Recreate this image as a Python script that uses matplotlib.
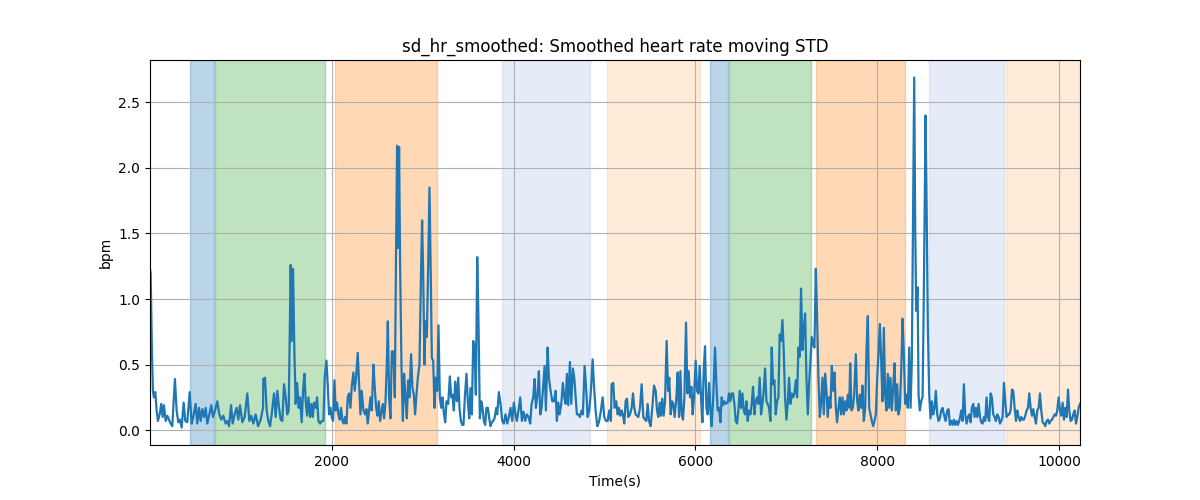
import numpy as np
import matplotlib
matplotlib.use("Agg")
import matplotlib.pyplot as plt

# --- data (time in seconds, smoothed HR moving STD in bpm) ---
seg1_t = [2, 9, 23, 34, 45, 60, 75, 89, 108, 126, 141, 155, 174, 192, 210, 229, 247, 276, 295, 313, 331,
          350, 372, 390, 412, 438, 460, 478, 504, 522, 541, 559, 577, 596, 614, 632, 654, 676, 695, 717, 742,
          764, 786, 808, 834, 856, 871, 893, 911, 933, 955, 973, 992, 1017, 1043, 1072, 1094, 1116, 1138, 1164, 1190,
          1219, 1245]
seg1_v = [1.23, 1.20, 0.61, 0.30, 0.25, 0.29, 0.15, 0.07, 0.12, 0.20, 0.10, 0.19, 0.07, 0.11, 0.08, 0.05, 0.03, 0.39, 0.15, 0.06, 0.08,
          0.02, 0.21, 0.07, 0.06, 0.29, 0.05, 0.10, 0.20, 0.05, 0.17, 0.07, 0.16, 0.10, 0.17, 0.05, 0.12, 0.19, 0.10, 0.15, 0.22,
          0.12, 0.08, 0.11, 0.05, 0.07, 0.03, 0.19, 0.05, 0.12, 0.17, 0.08, 0.19, 0.06, 0.10, 0.28, 0.07, 0.11, 0.05, 0.12, 0.03,
          0.08, 0.17]

seg2_t = [1248, 1267, 1285, 1303, 1322, 1340, 1366, 1384, 1402, 1421, 1439, 1457, 1476, 1494, 1512, 1527, 1538, 1549, 1560, 1575,
          1589, 1604, 1619, 1637, 1652, 1670, 1685, 1700, 1714, 1729, 1744, 1762, 1777, 1791, 1806, 1824, 1839, 1854, 1872, 1890,
          1909, 1923, 1942, 1956, 1971, 1986, 2000, 2015, 2030, 2044, 2059, 2074, 2088, 2103, 2118, 2132, 2147, 2162, 2176, 2191,
          2206, 2220, 2239, 2253, 2268, 2286, 2301, 2316, 2330, 2349, 2367, 2382, 2396, 2411, 2426, 2440, 2459, 2473, 2488, 2503,
          2517, 2532]
seg2_v = [0.39, 0.40, 0.15, 0.07, 0.03, 0.12, 0.28, 0.10, 0.30, 0.17, 0.08, 0.07, 0.35, 0.25, 0.12, 0.15, 0.68, 1.26, 0.68, 1.23,
          0.61, 0.20, 0.36, 0.17, 0.25, 0.06, 0.30, 0.43, 0.22, 0.11, 0.25, 0.10, 0.20, 0.10, 0.21, 0.17, 0.25, 0.07, 0.05, 0.07,
          0.07, 0.40, 0.53, 0.35, 0.12, 0.17, 0.10, 0.07, 0.38, 0.15, 0.21, 0.12, 0.08, 0.17, 0.07, 0.05, 0.10, 0.05, 0.25, 0.28,
          0.17, 0.33, 0.44, 0.30, 0.40, 0.59, 0.35, 0.12, 0.30, 0.15, 0.12, 0.16, 0.05, 0.15, 0.25, 0.15, 0.50, 0.33, 0.17, 0.11,
          0.22, 0.07]

seg3_t = [2543, 2562, 2576, 2591, 2606, 2617, 2631, 2646, 2661, 2679, 2694, 2708, 2719, 2730, 2741, 2752, 2767, 2782, 2796, 2811,
          2826, 2840, 2855, 2873, 2888, 2903, 2917, 2932, 2947, 2965, 2983, 2994, 3005, 3020, 3031, 3046, 3060, 3075, 3090, 3101,
          3116, 3130, 3145, 3160, 3174, 3189, 3204, 3218, 3233, 3248, 3262, 3281, 3299, 3314, 3328, 3343, 3358, 3376, 3391, 3405,
          3420, 3435, 3449, 3464, 3482, 3497, 3512, 3526, 3541, 3556, 3570, 3585, 3600, 3614, 3629, 3644, 3658, 3673, 3688, 3702,
          3717, 3732, 3746, 3761, 3776, 3790, 3809]
seg3_v = [0.12, 0.20, 0.09, 0.21, 0.50, 0.83, 0.25, 0.09, 0.60, 0.60, 0.25, 1.39, 2.17, 1.39, 2.16, 1.27, 0.50, 0.07, 0.43, 0.25,
          0.09, 0.38, 0.25, 0.58, 0.32, 0.27, 0.12, 0.27, 0.40, 0.50, 1.24, 1.60, 1.22, 0.50, 0.83, 0.71, 1.22, 1.85, 1.14, 0.55,
          0.53, 0.17, 0.40, 0.30, 0.80, 0.25, 0.17, 0.25, 0.13, 0.06, 0.22, 0.20, 0.41, 0.25, 0.27, 0.15, 0.37, 0.22, 0.40, 0.17,
          0.07, 0.04, 0.04, 0.25, 0.43, 0.22, 0.09, 0.32, 0.12, 0.68, 0.65, 0.27, 1.32, 0.83, 0.09, 0.22, 0.17, 0.07, 0.04, 0.17,
          0.17, 0.09, 0.03, 0.06, 0.07, 0.09, 0.17]

seg4_t = [3820, 3838, 3856, 3875, 3893, 3911, 3930, 3948, 3966, 3985, 4003, 4021, 4036, 4054, 4073, 4091, 4109, 4128, 4146, 4164,
          4183, 4198, 4216, 4231, 4245, 4264, 4278, 4293, 4308, 4326, 4341, 4355, 4374, 4388, 4407, 4425, 4443, 4462, 4476, 4491,
          4506, 4524, 4542, 4557, 4572, 4586, 4601, 4619, 4634, 4652, 4667, 4682, 4696, 4715, 4729, 4748, 4762, 4781, 4799, 4814,
          4832, 4850, 4869, 4883, 4902, 4920, 4938, 4960, 4979, 4997, 5015, 5034, 5052, 5070]
seg4_v = [0.12, 0.29, 0.20, 0.07, 0.05, 0.12, 0.05, 0.10, 0.17, 0.07, 0.21, 0.12, 0.07, 0.15, 0.25, 0.07, 0.14, 0.07, 0.12, 0.10,
          0.05, 0.20, 0.25, 0.39, 0.17, 0.28, 0.45, 0.12, 0.17, 0.35, 0.49, 0.15, 0.63, 0.40, 0.30, 0.22, 0.22, 0.30, 0.07, 0.21,
          0.12, 0.20, 0.36, 0.25, 0.20, 0.43, 0.19, 0.52, 0.20, 0.47, 0.40, 0.25, 0.12, 0.12, 0.10, 0.15, 0.12, 0.49, 0.30, 0.10,
          0.15, 0.30, 0.54, 0.35, 0.15, 0.03, 0.06, 0.15, 0.25, 0.10, 0.07, 0.07, 0.15, 0.07]

seg5_t = [5078, 5096, 5111, 5129, 5144, 5159, 5173, 5188, 5203, 5217, 5232, 5247, 5261, 5280, 5298, 5313, 5327, 5342, 5357, 5371,
          5390, 5408, 5426, 5445, 5459, 5474, 5489, 5507, 5525, 5544, 5562, 5577, 5591, 5606, 5621, 5635, 5650, 5665, 5683, 5698,
          5712, 5727, 5742, 5756, 5771, 5790, 5804, 5819, 5834, 5848, 5863, 5878, 5896, 5911, 5925, 5940, 5955, 5969, 5984, 6002,
          6017, 6032, 6046, 6061, 6076, 6090, 6105, 6120, 6134, 6149, 6164, 6178, 6197, 6215, 6230, 6244, 6259, 6274, 6288, 6303,
          6318, 6332]
seg5_v = [0.35, 0.36, 0.17, 0.22, 0.12, 0.17, 0.11, 0.15, 0.11, 0.05, 0.22, 0.24, 0.10, 0.12, 0.17, 0.28, 0.17, 0.12, 0.11, 0.10,
          0.17, 0.35, 0.10, 0.08, 0.07, 0.20, 0.07, 0.03, 0.17, 0.34, 0.30, 0.15, 0.10, 0.21, 0.11, 0.24, 0.11, 0.22, 0.68, 0.30,
          0.40, 0.12, 0.22, 0.20, 0.10, 0.25, 0.44, 0.10, 0.45, 0.12, 0.08, 0.25, 0.82, 0.28, 0.45, 0.25, 0.33, 0.12, 0.25, 0.53,
          0.30, 0.28, 0.49, 0.25, 0.06, 0.45, 0.64, 0.17, 0.12, 0.36, 0.15, 0.03, 0.28, 0.63, 0.35, 0.15, 0.17, 0.06, 0.25, 0.19,
          0.22, 0.20]

seg6_t = [6354, 6369, 6384, 6398, 6413, 6428, 6442, 6457, 6472, 6486, 6501, 6516, 6530, 6545, 6560, 6574, 6589, 6604, 6618, 6633,
          6648, 6662, 6677, 6692, 6706, 6721, 6736, 6750, 6765, 6780, 6794, 6809, 6824, 6838, 6853, 6868, 6882, 6897, 6912, 6926,
          6941, 6956, 6970, 6985, 7000, 7014, 7029, 7044, 7059, 7073, 7088, 7103, 7117, 7132, 7147, 7161, 7176, 7191, 7205, 7220,
          7235, 7249, 7264, 7279, 7293, 7308, 7323, 7337, 7352, 7367, 7381, 7396, 7411, 7425, 7440, 7454, 7469, 7484, 7499, 7513,
          7528, 7543, 7557, 7572, 7587, 7601, 7616]
seg6_v = [0.21, 0.28, 0.22, 0.28, 0.28, 0.20, 0.07, 0.05, 0.15, 0.30, 0.17, 0.28, 0.15, 0.12, 0.22, 0.07, 0.15, 0.12, 0.20, 0.33,
          0.12, 0.22, 0.25, 0.20, 0.40, 0.12, 0.20, 0.30, 0.47, 0.22, 0.20, 0.17, 0.07, 0.63, 0.35, 0.38, 0.12, 0.22, 0.25, 0.73,
          0.68, 0.84, 0.61, 0.25, 0.08, 0.20, 0.40, 0.20, 0.28, 0.25, 0.28, 0.38, 0.25, 0.63, 0.56, 1.08, 0.61, 0.78, 0.89, 0.40,
          0.12, 0.35, 0.53, 0.71, 0.66, 0.63, 1.23, 0.86, 0.40, 0.10, 0.20, 0.40, 0.12, 0.43, 0.30, 0.10, 0.25, 0.17, 0.49, 0.30,
          0.44, 0.17, 0.06, 0.17, 0.25, 0.12, 0.25]

seg7_t = [7631, 7646, 7660, 7675, 7690, 7701, 7715, 7730, 7745, 7763, 7778, 7792, 7807, 7822, 7836, 7851, 7866, 7880, 7895, 7910,
          7924, 7939, 7954, 7968, 7983, 7998, 8012, 8027, 8042, 8056, 8071, 8086, 8100, 8115, 8130, 8144, 8159, 8174, 8188, 8203,
          8218, 8232, 8247, 8262, 8277, 8291, 8306, 8321, 8335, 8350, 8365, 8379, 8394, 8405, 8416, 8427, 8442, 8453, 8467, 8482,
          8497, 8508, 8519, 8530, 8541, 8555, 8570, 8585, 8599, 8614, 8629, 8643, 8658, 8673, 8687, 8702, 8717, 8731, 8750, 8768,
          8783, 8797, 8812, 8827, 8841, 8856, 8871, 8885, 8900, 8915]
seg7_v = [0.12, 0.22, 0.15, 0.27, 0.17, 0.51, 0.15, 0.17, 0.27, 0.58, 0.22, 0.15, 0.27, 0.17, 0.34, 0.07, 0.17, 0.60, 0.87, 0.17,
          0.12, 0.07, 0.03, 0.07, 0.12, 0.40, 0.58, 0.81, 0.53, 0.22, 0.78, 0.27, 0.15, 0.43, 0.17, 0.40, 0.15, 0.32, 0.51, 0.15,
          0.35, 0.12, 0.17, 0.45, 0.85, 0.58, 0.20, 0.27, 0.17, 0.63, 0.17, 0.53, 1.75, 2.69, 1.55, 0.91, 1.09, 0.27, 0.15, 0.22,
          0.25, 0.88, 1.60, 2.40, 1.75, 0.78, 0.27, 0.09, 0.22, 0.12, 0.17, 0.30, 0.12, 0.07, 0.09, 0.15, 0.17, 0.12, 0.07, 0.15,
          0.16, 0.04, 0.07, 0.04, 0.08, 0.04, 0.07, 0.04, 0.07, 0.12]

seg8_t = [8922, 8937, 8951, 8966, 8981, 8995, 9010, 9025, 9039, 9054, 9069, 9083, 9098, 9113, 9128, 9142, 9157, 9172, 9186, 9201,
          9215, 9230, 9245, 9259, 9274, 9289, 9303, 9318, 9333, 9348, 9362, 9377, 9392, 9406, 9421, 9436, 9450, 9465, 9480, 9494,
          9509, 9524, 9538, 9553, 9568, 9582, 9597, 9612, 9626, 9641, 9656, 9670, 9685, 9700, 9714, 9729, 9744, 9758, 9773, 9788,
          9802, 9817, 9832, 9846, 9861, 9876, 9890, 9905, 9920, 9934, 9949, 9964, 9978, 9993, 10008, 10022, 10037, 10052, 10066, 10081,
          10096, 10110, 10125, 10140, 10154, 10169, 10184, 10198, 10213, 10228]
seg8_v = [0.15, 0.07, 0.35, 0.12, 0.05, 0.10, 0.12, 0.06, 0.17, 0.20, 0.10, 0.17, 0.10, 0.20, 0.10, 0.06, 0.05, 0.10, 0.07, 0.25,
          0.10, 0.07, 0.28, 0.25, 0.12, 0.10, 0.07, 0.12, 0.10, 0.05, 0.07, 0.10, 0.36, 0.22, 0.10, 0.12, 0.12, 0.15, 0.31, 0.30,
          0.17, 0.07, 0.15, 0.10, 0.07, 0.10, 0.08, 0.08, 0.11, 0.15, 0.17, 0.28, 0.17, 0.11, 0.16, 0.10, 0.05, 0.15, 0.17, 0.28,
          0.15, 0.06, 0.05, 0.03, 0.07, 0.08, 0.05, 0.07, 0.08, 0.10, 0.12, 0.11, 0.15, 0.25, 0.15, 0.11, 0.21, 0.08, 0.17, 0.10,
          0.31, 0.15, 0.07, 0.08, 0.12, 0.15, 0.05, 0.10, 0.17, 0.20]

# shaded activity phases
span_start = [445, 720, 2041, 3867, 5023, 6156, 6366, 7323, 8566, 9413]
span_end = [709, 1927, 3160, 4843, 6054, 6355, 7275, 8302, 9391, 10236]
span_kind = ["a", "b", "c", "d", "e", "a", "b", "c", "d", "e"]

kind_style = {
    "a": ("#1f77b4", 0.30),
    "b": ("#2ca02c", 0.30),
    "c": ("#ff7f0e", 0.30),
    "d": ("#4a7fd0", 0.14),
    "e": ("#ff9f40", 0.20),
}

time_s = np.concatenate([seg1_t, seg2_t, seg3_t, seg4_t, seg5_t, seg6_t, seg7_t, seg8_t]).astype(float)
sd_hr = np.concatenate([seg1_v, seg2_v, seg3_v, seg4_v, seg5_v, seg6_v, seg7_v, seg8_v])

fig, ax = plt.subplots(figsize=(12, 5), dpi=100)
for s, e, k in zip(span_start, span_end, span_kind):
    c, a = kind_style[k]
    ax.axvspan(s, e, color=c, alpha=a)
ax.plot(time_s, sd_hr, color="#1f77b4", linewidth=1.6)
ax.set_xlim(time_s.min(), time_s.max())
ax.grid(True)
ax.set_title("sd_hr_smoothed: Smoothed heart rate moving STD")
ax.set_xlabel("Time(s)")
ax.set_ylabel("bpm")
fig.savefig("out.png", dpi=100)
